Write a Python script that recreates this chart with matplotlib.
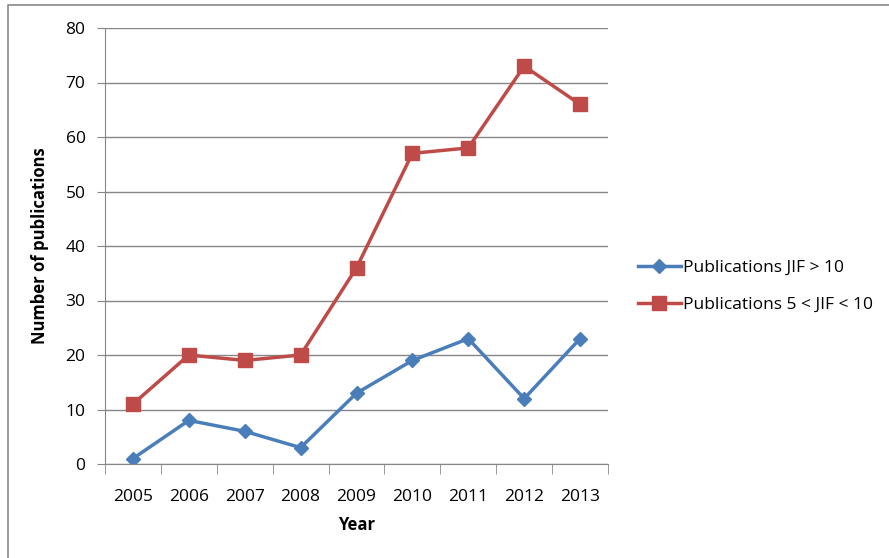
import matplotlib.pyplot as plt
from matplotlib.lines import Line2D
from matplotlib.ticker import FixedLocator

years = ['2005', '2006', '2007', '2008', '2009', '2010', '2011', '2012', '2013']
jif_over_10 = [1, 8, 6, 3, 13, 19, 23, 12, 23]
jif_5_to_10 = [11, 20, 19, 20, 36, 57, 58, 73, 66]

blue = '#4A7EBB'
red = '#BE4B48'

plt.rcParams['font.family'] = ['Open Sans', 'DejaVu Sans']

W, H = 889, 558
fig = plt.figure(figsize=(W / 100, H / 100), dpi=100)
ax = fig.add_axes([105 / W, 1 - 464 / H, (608 - 105) / W, (464 - 28) / H])

# outer chart frame (only top and left edges are visible in the crop)
fig.lines.append(Line2D([8 / W, 8 / W, 1], [0, 1 - 5 / H, 1 - 5 / H],
                        transform=fig.transFigure, color='#888888', linewidth=1.2))

x = range(len(years))
ax.plot(x, jif_over_10, color=blue, linewidth=2.5, marker='D', markersize=7.5,
        label='Publications JIF > 10')
ax.plot(x, jif_5_to_10, color=red, linewidth=2.5, marker='s', markersize=10,
        label='Publications 5 < JIF < 10')

ax.set_xlim(-0.5, len(years) - 0.5)
ax.set_ylim(0, 80)
ax.set_yticks(range(0, 81, 10))
ax.set_xticks(list(x))
ax.set_xticklabels(years)
ax.xaxis.set_minor_locator(FixedLocator([i - 0.5 for i in range(len(years) + 1)]))
ax.tick_params(axis='x', which='major', length=0, labelsize=12.5, pad=18)
ax.tick_params(axis='x', which='minor', length=7, color='#868686', direction='out')
ax.tick_params(axis='y', length=6, color='#868686', labelsize=12.5, pad=8)

ax.yaxis.grid(True, color='#868686', linewidth=1)
ax.set_axisbelow(True)
for side in ['top', 'right']:
    ax.spines[side].set_visible(False)
for side in ['left', 'bottom']:
    ax.spines[side].set_color('#868686')

ax.set_xlabel('Year', fontsize=12, fontweight='bold', labelpad=8)
ax.set_ylabel('Number of publications', fontsize=12, fontweight='bold', labelpad=12)

ax.legend(loc='center left', bbox_to_anchor=(1.045, 0.407), frameon=False,
          fontsize=12.5, handlelength=2.5, handletextpad=0.1, labelspacing=1.2,
          borderaxespad=0)

fig.savefig('out.png', dpi=100)
